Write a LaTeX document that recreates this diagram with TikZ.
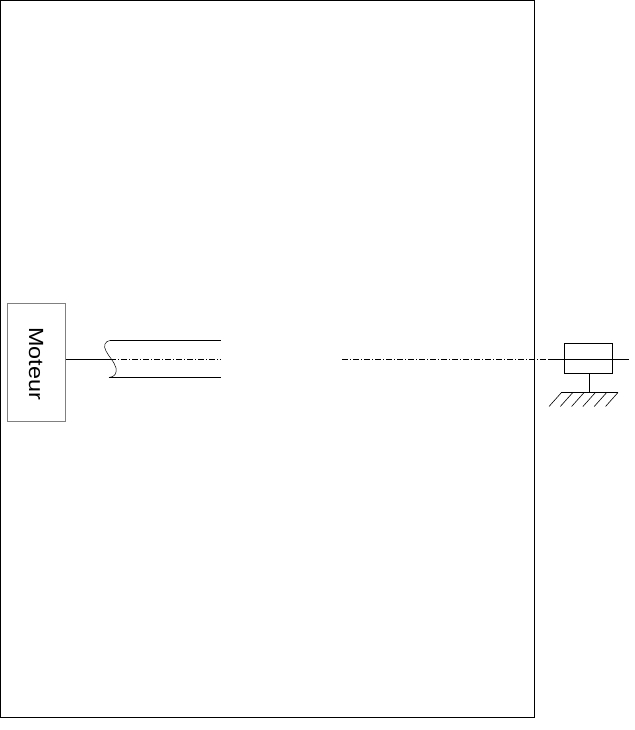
\documentclass[tikz,border=0pt]{standalone}
\usepackage{fontspec}
\setmainfont{Liberation Sans}
\usetikzlibrary{calc}
\tikzset{
  outline/.style={draw=black,line width=1pt},
  wire/.style={draw=black,line width=0.8pt},
  axis/.style={draw=black,line width=0.7pt,dash pattern=on 6pt off 2pt on 1pt off 2pt},
  motorbox/.style={draw=black!50,line width=0.8pt,fill=white,minimum width=58pt,minimum height=118pt,inner sep=0pt},
  bearingbox/.style={draw=black,line width=0.9pt,minimum width=48pt,minimum height=29.5pt,inner sep=0pt},
  hatch/.style={draw=black,line width=0.6pt}
}
\begin{document}
\begin{tikzpicture}[x=1pt,y=-1pt]
\useasboundingbox (0,0) rectangle (634,730);
\fill[white] (0,0) rectangle (634,730);
\draw[outline] (0.5,0.5) rectangle (534.5,717.5);
\node[motorbox] (moteur) at (36.5,362) {};
\node[rotate=-90,font=\fontsize{20.5}{24}\selectfont,xscale=1.14] (label) at (36,363.5) {Moteur};
\coordinate (shaftA) at (110,359);
\coordinate (axisA) at (220.5,359);
\coordinate (axisB) at (342,359);
\coordinate (axisC) at (548,359);
\coordinate (shaftD) at (629,359);
\coordinate (tubeTL) at (110,340.5);
\coordinate (tubeTR) at (220.5,340.5);
\coordinate (tubeBL) at (109,377.5);
\coordinate (tubeBR) at (220.5,377.5);
\draw[wire] (moteur.east |- shaftA) -- (shaftA);
\draw[axis] (shaftA) -- (axisA);
\draw[axis] (axisB) -- (axisC);
\draw[wire] (tubeTL) -- (tubeTR);
\draw[wire] (tubeBL) -- (tubeBR);
\draw[draw=black,line width=0.5pt] (tubeTL) .. controls (105,341) and (103,346) .. (106,351)
  .. controls (109,357) and (114,361) .. (116,368)
  .. controls (117,373) and (115,377) .. (tubeBL);
\node[bearingbox] (palier) at (588.5,358.2) {};
\draw[wire] (axisC) -- (shaftD);
\coordinate (groundL) at (561,392.5);
\coordinate (groundR) at (618,392.5);
\coordinate (stemTop) at ($(palier.south)+(1,0)$);
\draw[wire] (stemTop) -- (stemTop |- groundL);
\draw[wire] (groundL) -- (groundR);
\foreach \i in {0,...,5} {
  \draw[hatch] ($(561.5,392.5)+(\i*11.3,0)$) -- ++(-12.5,14);
}
\end{tikzpicture}
\end{document}
